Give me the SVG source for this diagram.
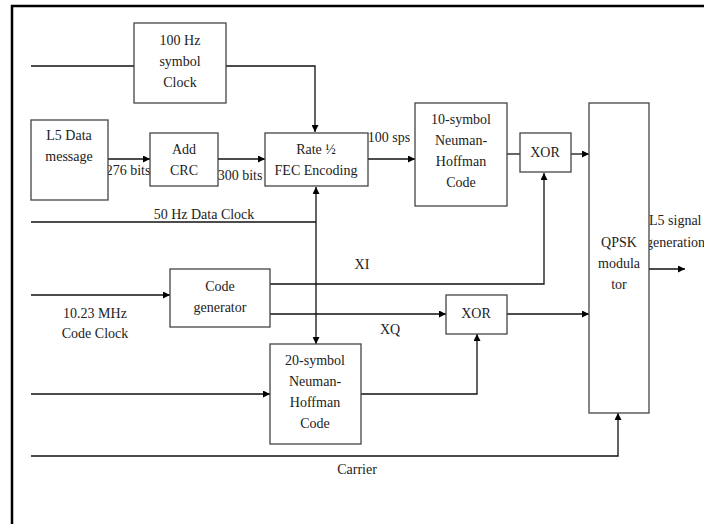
<svg xmlns="http://www.w3.org/2000/svg" width="704" height="524" viewBox="0 0 704 524">
<defs>
<marker id="ah" viewBox="0 0 10 10" refX="10" refY="5" markerWidth="7" markerHeight="7" markerUnits="userSpaceOnUse" orient="auto">
<path d="M0,0 L10,5 L0,10 z" fill="#000"/>
</marker>
<style>
.box{fill:#fff;stroke:#444;stroke-width:1.3}
.ln{fill:none;stroke:#111;stroke-width:1.3}
.t{font-family:"Liberation Serif","Times New Roman",serif;font-size:14px;fill:#222;text-anchor:middle}
.tl{font-family:"Liberation Serif","Times New Roman",serif;font-size:14px;fill:#222;text-anchor:start}
</style>
</defs>
<rect width="704" height="524" fill="#fff"/>
<path d="M12,524 V6 H704" fill="none" stroke="#000" stroke-width="2.5"/>

<g id="connectors">
<path class="ln" d="M31,66 H134"/>
<path class="ln" d="M226,66 H315 V132" marker-end="url(#ah)"/>
<path class="ln" d="M108,159 H150" marker-end="url(#ah)"/>
<path class="ln" d="M218,159 H265" marker-end="url(#ah)"/>
<path class="ln" d="M31,222 H316"/>
<path class="ln" d="M316,222 V187" marker-end="url(#ah)"/>
<path class="ln" d="M316,222 V344" marker-end="url(#ah)"/>
<path class="ln" d="M368,159 H415" marker-end="url(#ah)"/>
<path class="ln" d="M507,154 H520"/>
<path class="ln" d="M571,154 H589" marker-end="url(#ah)"/>
<path class="ln" d="M31,295 H170" marker-end="url(#ah)"/>
<path class="ln" d="M270,284 H544 V173" marker-end="url(#ah)"/>
<path class="ln" d="M270,314 H446" marker-end="url(#ah)"/>
<path class="ln" d="M507,314 H589" marker-end="url(#ah)"/>
<path class="ln" d="M31,394 H270" marker-end="url(#ah)"/>
<path class="ln" d="M361,394 H477 V334" marker-end="url(#ah)"/>
<path class="ln" d="M31,456 H618 V413" marker-end="url(#ah)"/>
<path class="ln" d="M649,269 H685" marker-end="url(#ah)"/>
<text class="t" x="128" y="175">276 bits</text>
<text class="t" x="240" y="180">300 bits</text>
<text class="t" x="204" y="219">50 Hz Data Clock</text>
<text class="t" x="389" y="142">100 sps</text>
<text class="t" x="362" y="269">XI</text>
<text class="t" x="390" y="334">XQ</text>
<text class="t" x="95" y="318">10.23 MHz</text>
<text class="t" x="95" y="338">Code Clock</text>
<text class="t" x="357" y="474">Carrier</text>
<text class="tl" x="649" y="225">L5 signal</text>
<text class="tl" x="646" y="247">generation</text>
</g>

<g id="clock100">
<rect class="box" x="134" y="23" width="92" height="80"/>
<text class="t" x="180" y="45">100 Hz</text>
<text class="t" x="180" y="66">symbol</text>
<text class="t" x="180" y="87">Clock</text>
</g>
<g id="l5data">
<rect class="box" x="31" y="120" width="77" height="80"/>
<text class="t" x="69" y="140">L5 Data</text>
<text class="t" x="69" y="161">message</text>
</g>
<g id="crc">
<rect class="box" x="150" y="133" width="68" height="53"/>
<text class="t" x="184" y="154">Add</text>
<text class="t" x="184" y="175">CRC</text>
</g>
<g id="fec">
<rect class="box" x="265" y="133" width="103" height="53"/>
<text class="t" x="316" y="154">Rate ½</text>
<text class="t" x="316" y="175">FEC Encoding</text>
</g>
<g id="nh10">
<rect class="box" x="415" y="103" width="92" height="103"/>
<text class="t" x="461" y="124">10-symbol</text>
<text class="t" x="461" y="145">Neuman-</text>
<text class="t" x="461" y="166">Hoffman</text>
<text class="t" x="461" y="187">Code</text>
</g>
<g id="xor1">
<rect class="box" x="520" y="133" width="51" height="39"/>
<text class="t" x="545" y="157">XOR</text>
</g>
<g id="qpsk">
<rect class="box" x="589" y="103" width="60" height="310"/>
<text class="t" x="619" y="247">QPSK</text>
<text class="t" x="619" y="268">modula</text>
<text class="t" x="619" y="289">tor</text>
</g>
<g id="codegen">
<rect class="box" x="170" y="269" width="100" height="58"/>
<text class="t" x="220" y="291">Code</text>
<text class="t" x="220" y="312">generator</text>
</g>
<g id="xor2">
<rect class="box" x="446" y="295" width="61" height="39"/>
<text class="t" x="476" y="318">XOR</text>
</g>
<g id="nh20">
<rect class="box" x="270" y="344" width="91" height="100"/>
<text class="t" x="315" y="365">20-symbol</text>
<text class="t" x="315" y="386">Neuman-</text>
<text class="t" x="315" y="407">Hoffman</text>
<text class="t" x="315" y="428">Code</text>
</g>
</svg>
